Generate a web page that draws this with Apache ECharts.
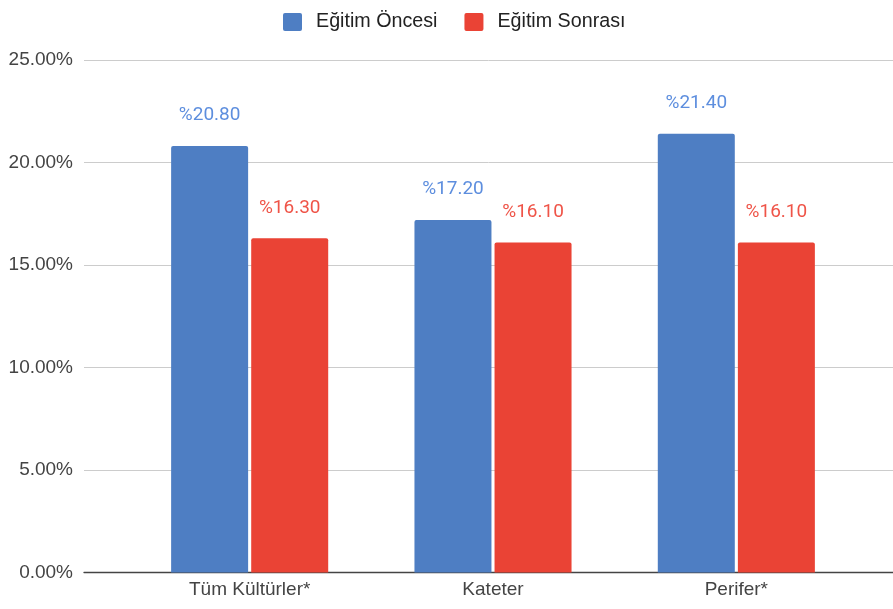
<!DOCTYPE html>
<html>
<head>
<meta charset="utf-8">
<script src="https://cdn.jsdelivr.net/npm/echarts@6/dist/echarts.min.js"></script>
<style>
html,body{margin:0;padding:0;background:#fff;}
#chart{width:893px;height:609px;}
</style>
</head>
<body>
<div id="chart"></div>
<script>
const categories = ['Tüm Kültürler*', 'Kateter', 'Perifer*'];
const seriesNames = ['Eğitim Öncesi', 'Eğitim Sonrası'];
const before = [20.8, 17.2, 21.4];
const after = [16.3, 16.1, 16.1];
const yTicks = [0, 5, 10, 15, 20, 25];

const chart = echarts.init(document.getElementById('chart'), null, {renderer: 'canvas'});
const axisFont = {fontFamily: 'Liberation Sans', fontSize: 19, color: '#444'};
const gridTop = 60, gridBottom = 36.5;
const yMin = yTicks[0], yMax = yTicks[yTicks.length - 1], yStep = yTicks[1] - yTicks[0];

function labelFor(color) {
  return {
    show: true, position: 'top', distance: 21,
    fontFamily: 'Roboto', fontSize: 19, color: color,
    formatter: p => '%' + p.value.toFixed(2)
  };
}

chart.setOption({
  animation: false,
  backgroundColor: '#fff',
  legend: {
    top: 7, left: 278,
    itemWidth: 19, itemHeight: 18, itemGap: 27,
    icon: 'path://M2,0 L17,0 Q19,0 19,2 L19,16 Q19,18 17,18 L2,18 Q0,18 0,16 L0,2 Q0,0 2,0 Z',
    textStyle: {fontFamily: 'Liberation Sans', fontSize: 19.7, color: '#222', padding: [0, 0, 0, 9]},
    data: seriesNames
  },
  grid: [
    {left: 84, right: 0, top: gridTop, bottom: gridBottom},
    {left: 128, right: 35, top: gridTop, bottom: gridBottom}
  ],
  xAxis: [
    {gridIndex: 0, type: 'value', min: 0, max: 1, show: true,
     axisLine: {show: true, onZero: false, lineStyle: {color: '#444', width: 1.3}},
     axisTick: {show: false}, axisLabel: {show: false}, splitLine: {show: false}},
    {gridIndex: 1, type: 'category', data: categories,
     axisLine: {show: false}, axisTick: {show: false},
     axisLabel: Object.assign({margin: 8}, axisFont)}
  ],
  yAxis: [
    {gridIndex: 0, type: 'value', min: yMin, max: yMax, interval: yStep,
     axisLine: {show: false}, axisTick: {show: false},
     axisLabel: Object.assign({margin: 11, formatter: v => v.toFixed(2) + '%'}, axisFont),
     splitLine: {lineStyle: {color: '#cccccc', width: 1}}},
    {gridIndex: 1, type: 'value', min: yMin, max: yMax, interval: yStep, show: false,
     splitLine: {show: false}}
  ],
  series: [
    {name: seriesNames[0], type: 'bar', xAxisIndex: 1, yAxisIndex: 1, data: before,
     barWidth: 77, barGap: '4%',
     itemStyle: {color: '#4e7ec3', borderRadius: [2, 2, 0, 0]},
     label: labelFor('#5d8ede')},
    {name: seriesNames[1], type: 'bar', xAxisIndex: 1, yAxisIndex: 1, data: after,
     barWidth: 77, barGap: '4%',
     itemStyle: {color: '#ea4335', borderRadius: [2, 2, 0, 0]},
     label: labelFor('#ef5448')}
  ]
});
</script>
</body>
</html>
